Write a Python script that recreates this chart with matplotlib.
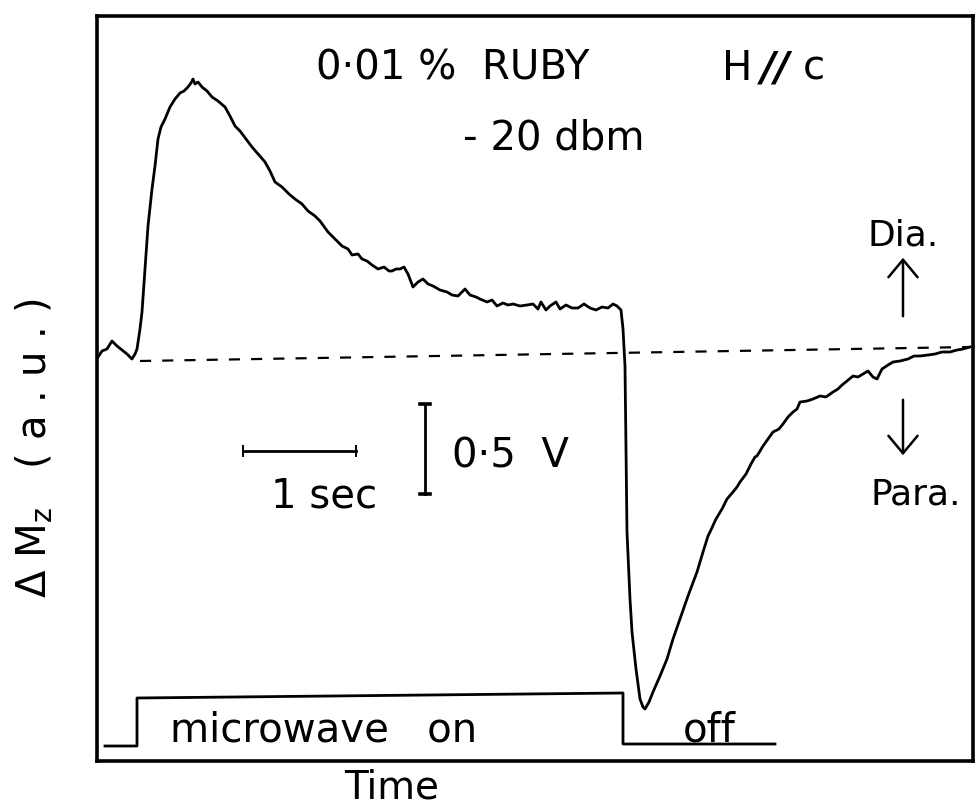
import matplotlib
matplotlib.use("Agg")
import matplotlib.pyplot as plt

# ---- data (pixel readings converted to s / V) ----
trace_px_x = [98, 102, 107, 112, 117, 122, 127, 132, 135, 137, 140, 142, 145, 148, 152, 155, 158, 161,
              165, 170, 175, 180, 184, 188, 191, 193, 195, 198, 202, 207, 212, 218, 225, 230, 235, 240,
              246, 252, 258, 265, 270, 275, 282, 289, 295, 302, 308, 315, 320, 328, 335, 342, 348, 352,
              358, 362, 367, 372, 378, 384, 389, 392, 396, 400, 404, 408, 413, 418, 423, 428, 433, 440,
              447, 452, 458, 465, 470, 476, 480, 487, 492, 497, 503, 508, 513, 520, 527, 533, 538, 541,
              546, 550, 556, 560, 566, 572, 578, 584, 590, 596, 602, 608, 613, 617, 621, 623, 625, 626,
              627, 630, 632, 636, 640, 643, 645, 649, 653, 660, 667, 673, 680, 688, 697, 703, 708, 710,
              716, 722, 727, 733, 737, 740, 746, 751, 755, 757, 763, 768, 773, 779, 783, 788, 793, 797,
              800, 807, 813, 820, 826, 833, 838, 842, 847, 853, 858, 863, 868, 873, 877, 882, 888, 893,
              900, 908, 914, 920, 928, 935, 942, 950, 957, 963, 970]
trace_px_y = [358, 352, 350, 342, 347, 351, 355, 360, 355, 350, 330, 313, 270, 227, 190, 167, 140, 128,
              120, 108, 100, 94, 92, 88, 84, 80, 85, 83, 88, 92, 98, 102, 108, 117, 127, 132,
              140, 148, 155, 163, 172, 183, 188, 195, 200, 205, 212, 217, 222, 233, 240, 247, 250, 256,
              255, 260, 262, 266, 270, 268, 272, 272, 270, 270, 268, 275, 288, 283, 280, 285, 287, 291,
              293, 296, 297, 290, 296, 298, 300, 303, 301, 307, 304, 306, 305, 307, 306, 305, 310, 303,
              311, 307, 303, 310, 306, 309, 309, 305, 309, 311, 308, 309, 305, 307, 311, 330, 367, 450,
              533, 600, 633, 670, 700, 708, 710, 703, 693, 677, 660, 640, 620, 597, 573, 553, 537, 533,
              520, 510, 500, 493, 488, 483, 475, 465, 458, 457, 447, 440, 433, 430, 425, 418, 413, 410,
              403, 402, 400, 397, 398, 393, 390, 386, 382, 377, 378, 375, 372, 378, 380, 370, 366, 363,
              362, 360, 357, 357, 356, 355, 353, 353, 351, 350, 348]

# microwave gate signal (pixel readings)
gate_px_x = [105, 137, 137, 623, 623, 775]
gate_px_y = [747, 747, 699, 694, 745, 745]

# zero-signal baseline (pixel readings)
base_px_x = [140, 970]
base_px_y = [362, 348]

PX_PER_S = 113.0   # 1 s scale bar length in pixels
PX_PER_V = 180.0   # 0.5 V scale bar = 90 px
X0, Y0 = 97, 360
to_t = lambda px: [(p - X0) / PX_PER_S for p in px]
to_v = lambda py: [(Y0 - p) / PX_PER_V for p in py]

time_s, signal_v = to_t(trace_px_x), to_v(trace_px_y)
gate_t, gate_v = to_t(gate_px_x), to_v(gate_px_y)
base_t, base_v = to_t(base_px_x), to_v(base_px_y)

W, H = 976, 812
fig = plt.figure(figsize=(W / 100, H / 100), dpi=100)
fig.patch.set_facecolor("white")

L, R, T, B = 97, 973, 17, 762
ax = fig.add_axes([L / W, 1 - B / H, (R - L) / W, (B - T) / H])
ax.set_xlim(0, (R - L) / PX_PER_S)
ax.set_ylim((Y0 - B) / PX_PER_V, (Y0 - T) / PX_PER_V)
ax.set_xticks([])
ax.set_yticks([])
for s in ax.spines.values():
    s.set_linewidth(2.6)
    s.set_color("black")

ax.plot(time_s, signal_v, color="black", lw=2.0, solid_joinstyle="round")
ax.plot(gate_t, gate_v, color="black", lw=2.0)
ax.plot(base_t, base_v, color="black", lw=1.6, ls=(0, (5, 5)))

# scale bars: 1 s and 0.5 V
sb_t0 = (243 - X0) / PX_PER_S
sb_v = (Y0 - 452) / PX_PER_V
ax.plot([sb_t0, sb_t0 + 1.0], [sb_v, sb_v], color="black", lw=2.0)
for tt in [sb_t0, sb_t0 + 1.0]:
    ax.plot([tt, tt], [sb_v - 0.03, sb_v + 0.03], color="black", lw=1.4)
vb_t = (425 - X0) / PX_PER_S
vb_v0 = (Y0 - 495) / PX_PER_V
ax.plot([vb_t, vb_t], [vb_v0, vb_v0 + 0.5], color="black", lw=2.0)
for vv in [vb_v0, vb_v0 + 0.5]:
    ax.plot([vb_t - 0.045, vb_t + 0.045], [vv, vv], color="black", lw=2.6)

def ftxt(x, y, s, **kw):
    kw.setdefault("fontsize", 29)
    kw.setdefault("ha", "center")
    kw.setdefault("va", "baseline")
    fig.text(x / W, 1 - y / H, s, color="black", **kw)

ftxt(453, 80, "0\u00b701 %  RUBY")
ftxt(737, 80, "H")
ftxt(776, 80, "//", fontweight="bold", style="italic")
ftxt(814, 80, "c")
ftxt(554, 150, "- 20 dbm")
ftxt(324, 508, "1 sec")
ftxt(452, 467, "0\u00b75  V", ha="left")
ftxt(903, 245, "Dia.", fontsize=26)
ftxt(916, 505, "Para.", fontsize=26)
ftxt(324, 742, "microwave   on")
ftxt(709, 742, "off")
ftxt(392, 799, "Time", fontsize=28)
fig.text(35 / W, 1 - 448 / H, r"$\Delta$ M$_{\mathrm{z}}$   ( a . u . )", rotation=90,
         fontsize=29, ha="center", va="center", color="black")

# Dia./Para. arrows
ar_t = (903 - X0) / PX_PER_S
style = "->,head_length=0.9,head_width=0.75"
ax.annotate("", xy=(ar_t, (Y0 - 256) / PX_PER_V), xytext=(ar_t, (Y0 - 320) / PX_PER_V),
            arrowprops=dict(arrowstyle=style, lw=1.8, color="black", mutation_scale=14))
ax.annotate("", xy=(ar_t, (Y0 - 459) / PX_PER_V), xytext=(ar_t, (Y0 - 398) / PX_PER_V),
            arrowprops=dict(arrowstyle=style, lw=1.8, color="black", mutation_scale=14))

fig.savefig("out.png", dpi=100, facecolor="white")
